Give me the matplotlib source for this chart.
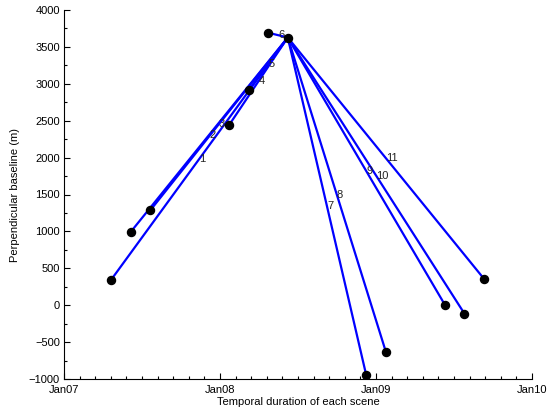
import pandas as pd
import matplotlib
matplotlib.use("Agg")
import matplotlib.pyplot as plt
from matplotlib.ticker import MultipleLocator

# master scene and the 11 slave scenes (ALOS-style 46 day cycle)
master_date = "2008-06-08"
master_bperp = 3627

slave_dates = ["2007-04-21", "2007-06-06", "2007-07-22", "2008-01-22", "2008-03-08",
               "2008-04-23", "2008-12-09", "2009-01-24", "2009-06-11", "2009-07-27",
               "2009-09-11"]
slave_bperp = [342, 992, 1286, 2438, 2912, 3692, -946, -630, 7, -115, 355]
pair_labels = ["1", "2", "3", "4", "5", "6", "7", "8", "9", "10", "11"]

year_ticks = [2007, 2008, 2009, 2010]
year_labels = ["Jan07", "Jan08", "Jan09", "Jan10"]


def decimal_year(s):
    d = pd.Timestamp(s)
    days = 366 if d.is_leap_year else 365
    return d.year + (d.dayofyear - 1) / days


mx = decimal_year(master_date)
sx = [decimal_year(s) for s in slave_dates]

plt.rcParams["font.family"] = ["Liberation Sans", "DejaVu Sans"]
plt.rcParams["font.size"] = 8

fig = plt.figure(figsize=(5.6, 4.07), dpi=100)
ax = fig.add_axes([64 / 560, 1 - 379 / 407, (532 - 64) / 560, (379 - 10) / 407])

for x, y in zip(sx, slave_bperp):
    ax.plot([x, mx], [y, master_bperp], color="#0000ff", lw=1.6, zorder=2)

for x, y, lab in zip(sx, slave_bperp, pair_labels):
    ax.text((x + mx) / 2, (y + master_bperp) / 2, lab, ha="left", va="center",
            fontsize=8, color="#222222", zorder=3)

ax.plot(sx + [mx], slave_bperp + [master_bperp], "o", color="black",
        markersize=5.8, zorder=4, linestyle="none")

ax.set_xlim(2007, 2010)
ax.set_ylim(-1000, 4000)
ax.set_xticks(year_ticks)
ax.set_xticklabels(year_labels)
ax.xaxis.set_minor_locator(MultipleLocator(0.1))
ax.yaxis.set_major_locator(MultipleLocator(500))
ax.yaxis.set_minor_locator(MultipleLocator(250))
ax.tick_params(which="both", direction="in", width=0.8)
ax.tick_params(which="major", length=4)
ax.tick_params(which="minor", length=2)
ax.tick_params(axis="x", which="major", pad=4)
ax.tick_params(axis="y", which="major", pad=3)
ax.yaxis.set_major_formatter(plt.FuncFormatter(lambda v, p: f"{v:.0f}".replace("-", "\u2212")))

for side in ("top", "right"):
    ax.spines[side].set_visible(False)

ax.set_xlabel("Temporal duration of each scene", labelpad=1.5)
ax.set_ylabel("Perpendicular baseline (m)", labelpad=6)

fig.savefig("out.png", dpi=100)
